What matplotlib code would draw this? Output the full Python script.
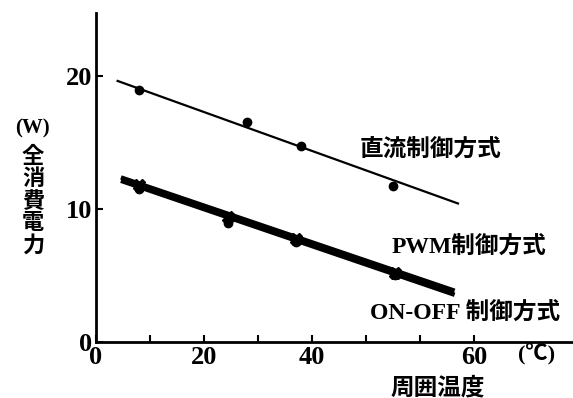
import matplotlib.pyplot as plt

plt.rcParams['font.family'] = ['Liberation Serif', 'Noto Sans CJK JP']
plt.rcParams['font.weight'] = 'bold'

# temperature ticks (the scan labels the 7th tick as 60)
x_ticks = [0, 10, 20, 30, 40, 50, 60, 70]
x_tick_labels = ['0', '', '20', '', '40', '', '', '60']
y_ticks = [0, 10, 20]

# 直流制御方式
dc_x = [8, 28, 38, 55]
dc_y = [18.9, 16.5, 14.7, 11.7]
dc_fit_x = [4, 67]
dc_fit_y = [19.6, 10.4]

# PWM制御方式
pwm_x = [8, 24.5, 37, 55.4]
pwm_y = [11.8, 9.4, 7.7, 5.2]
pwm_fit_x = [5, 66]
pwm_fit_y = [12.3, 3.9]

# ON-OFF 制御方式
onoff_x = [8, 24.5, 37, 55.4]
onoff_y = [11.5, 8.9, 7.5, 5.0]
onoff_fit_x = [5, 66]
onoff_fit_y = [12.05, 3.6]

fig = plt.figure(figsize=(5.73, 3.98), dpi=100)
ax = fig.add_axes([96/573, 1 - 342/398, (573 - 96)/573, (342 - 13)/398])

ax.plot(dc_fit_x, dc_fit_y, color='black', lw=1.6)
ax.plot(dc_x, dc_y, 'o', color='black', ms=6)

ax.plot(pwm_fit_x, pwm_fit_y, color='black', lw=3.2)
ax.plot(onoff_fit_x, onoff_fit_y, color='black', lw=3.2)
ax.plot(pwm_x, pwm_y, 'X', color='black', ms=9)
ax.plot(onoff_x, onoff_y, 'o', color='black', ms=6)

ax.set_xlim(0, 88.3)
ax.set_ylim(0, 24.7)
ax.spines['top'].set_visible(False)
ax.spines['right'].set_visible(False)
ax.spines['left'].set_linewidth(2)
ax.spines['bottom'].set_linewidth(2)

ax.set_xticks(x_ticks)
ax.set_xticklabels(x_tick_labels)
ax.set_yticks(y_ticks)
ax.tick_params(direction='in', length=5, width=1.5, labelsize=19, pad=3)

txt = dict(fontsize=17, fontweight='bold', color='black')
fig.text(431/573, 1 - 150/398, '直流制御方式', ha='center', va='center', **txt)
fig.text(469/573, 1 - 247/398, 'PWM制御方式', ha='center', va='center', **txt)
fig.text(465/573, 1 - 313/398, 'ON-OFF 制御方式', ha='center', va='center', **txt)
fig.text(537/573, 1 - 354/398, '(℃)', ha='center', va='center',
         fontsize=16, fontweight='bold')
fig.text(438/573, 1 - 388/398, '周囲温度', ha='center', va='center', **txt)
fig.text(32/573, 1 - 128/398, '(W)', ha='center', va='center',
         fontsize=15, fontweight='bold')
fig.text(33/573, 1 - 202/398, '全\n消\n費\n電\n力', ha='center', va='center',
         fontsize=16, fontweight='bold', linespacing=1.1)

fig.savefig('out.png', dpi=100)
